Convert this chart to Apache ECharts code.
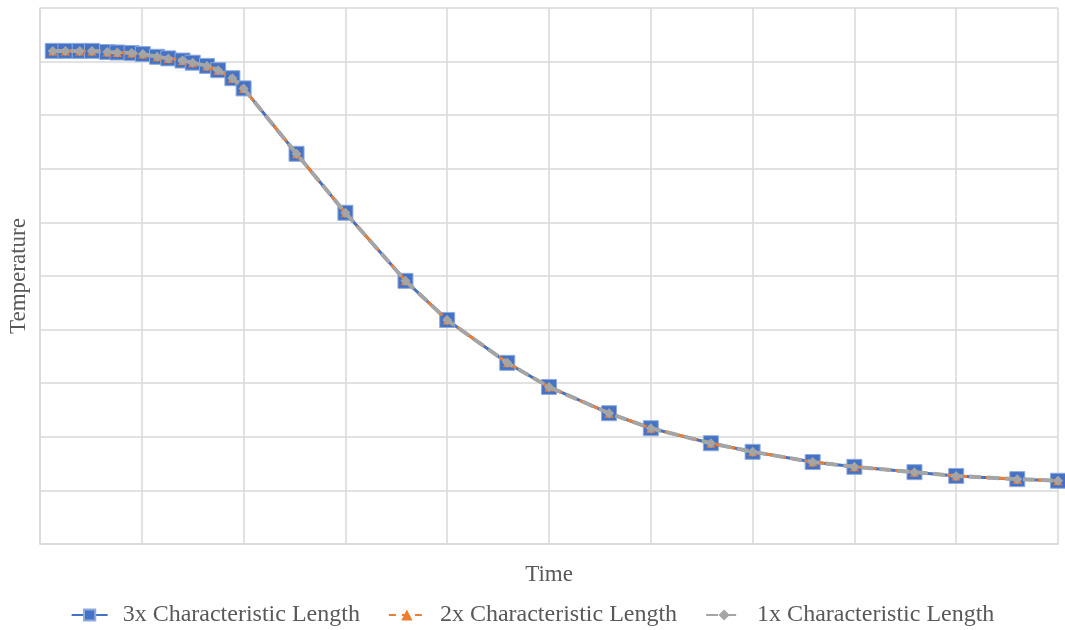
<!DOCTYPE html>
<html>
<head>
<meta charset="utf-8">
<script src="https://cdn.jsdelivr.net/npm/echarts@6/dist/echarts.min.js"></script>
<style>html,body{margin:0;padding:0;background:#fff;}#chart{width:1065px;height:630px;}</style>
</head>
<body>
<div id="chart"></div>
<script>
var seriesNames = ['3x Characteristic Length', '2x Characteristic Length', '1x Characteristic Length'];
var timeValues = [1.25, 2.5, 3.9, 5.1, 6.6, 7.6, 9.0, 10.1, 11.5, 12.6, 14.0, 15.0, 16.4, 17.5, 18.9, 20.0,
                  25.2, 30.0, 35.9, 40.0, 45.9, 50.0, 55.9, 60.0, 65.9, 70.0, 75.9, 80.0, 85.9, 90.0, 96.0, 100.0];
var temp3x = [9.20, 9.20, 9.20, 9.20, 9.18, 9.17, 9.16, 9.14, 9.09, 9.06, 9.02, 8.98, 8.92, 8.84, 8.69, 8.50,
              7.28, 6.18, 4.91, 4.18, 3.38, 2.93, 2.44, 2.16, 1.88, 1.72, 1.53, 1.44, 1.34, 1.27, 1.21, 1.18];
var temp2x = [9.20, 9.20, 9.20, 9.20, 9.18, 9.17, 9.16, 9.14, 9.09, 9.06, 9.02, 8.98, 8.92, 8.84, 8.69, 8.50,
              7.28, 6.18, 4.91, 4.18, 3.38, 2.93, 2.44, 2.16, 1.88, 1.72, 1.53, 1.44, 1.34, 1.27, 1.21, 1.18];
var temp1x = [9.20, 9.20, 9.20, 9.20, 9.18, 9.17, 9.16, 9.14, 9.09, 9.06, 9.02, 8.98, 8.92, 8.84, 8.69, 8.50,
              7.28, 6.18, 4.91, 4.18, 3.38, 2.93, 2.44, 2.16, 1.88, 1.72, 1.53, 1.44, 1.34, 1.27, 1.21, 1.18];
var xName = 'Time';
var yName = 'Temperature';

function pairs(ys) { return timeValues.map(function (t, i) { return [t, ys[i]]; }); }

var font = '"Liberation Serif", "Times New Roman", serif';
var textColor = '#595959';
var gridColor = '#d9d9d9';

var chart = echarts.init(document.getElementById('chart'), null, { renderer: 'canvas' });
chart.setOption({
  animation: false,
  backgroundColor: '#ffffff',
  grid: { left: 40, right: 7, top: 8, bottom: 86, containLabel: false, outerBoundsMode: 'none' },
  xAxis: {
    type: 'value', min: 0, max: 100, interval: 10,
    name: xName, nameLocation: 'middle', nameGap: 19,
    nameTextStyle: { fontFamily: font, fontSize: 23, color: textColor },
    axisLine: { show: true, lineStyle: { color: gridColor, width: 1.5 } },
    axisTick: { show: false }, axisLabel: { show: false },
    splitLine: { show: true, lineStyle: { color: gridColor, width: 1.5 } }
  },
  yAxis: {
    type: 'value', min: 0, max: 10, interval: 1,
    name: yName, nameLocation: 'middle', nameGap: 10, nameRotate: 90,
    nameTextStyle: { fontFamily: font, fontSize: 23, color: textColor },
    axisLine: { show: true, lineStyle: { color: gridColor, width: 1.5 } },
    axisTick: { show: false }, axisLabel: { show: false },
    splitLine: { show: true, lineStyle: { color: gridColor, width: 1.5 } }
  },
  legend: {
    top: 598, left: 'center', itemWidth: 36, itemHeight: 14, itemGap: 28,
    textStyle: { fontFamily: font, fontSize: 24, color: textColor, padding: [0, 0, 0, 10] },
    data: seriesNames
  },
  series: [
    {
      name: seriesNames[0], type: 'line', data: pairs(temp3x),
      symbol: 'rect', symbolSize: 15,
      itemStyle: { color: '#4472C4', borderColor: '#8FAADC', borderWidth: 1 },
      lineStyle: { color: '#4472C4', width: 3, type: 'solid' }, z: 2
    },
    {
      name: seriesNames[1], type: 'line', data: pairs(temp2x),
      symbol: 'triangle', symbolSize: 9,
      itemStyle: { color: '#ED7D31' },
      lineStyle: { color: '#ED7D31', width: 3, type: [7, 6] }, z: 3
    },
    {
      name: seriesNames[2], type: 'line', data: pairs(temp1x),
      symbol: 'diamond', symbolSize: 10,
      itemStyle: { color: '#A5A5A5' },
      lineStyle: { color: '#A5A5A5', width: 4, type: [12, 6] }, z: 4
    }
  ]
});
</script>
</body>
</html>
